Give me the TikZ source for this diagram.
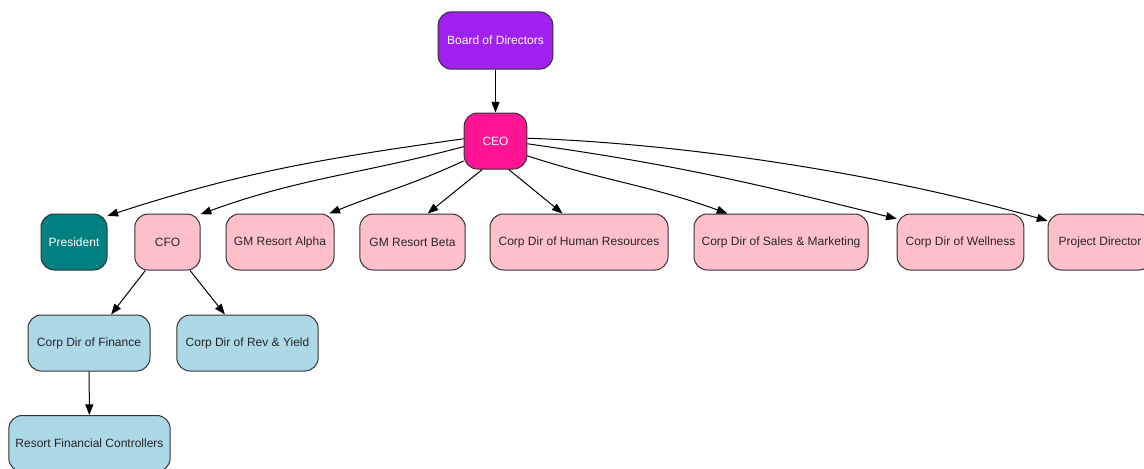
\documentclass[tikz,border=0pt]{standalone}
\usepackage{fontspec}
\setmainfont{Liberation Sans}
\usetikzlibrary{arrows.meta}
\definecolor{bpurple}{HTML}{A020F0}
\definecolor{dpink}{HTML}{FF1493}
\definecolor{tealc}{HTML}{008080}
\definecolor{pinkc}{HTML}{FFC0CB}
\definecolor{lblue}{HTML}{ADD8E6}
\definecolor{bord}{HTML}{333333}
\tikzset{
  box/.style={draw=bord, line width=0.75pt, rounded corners=10pt, minimum height=42pt,
    inner sep=2pt, font=\fontsize{9}{10}\selectfont, text=black!85},
  pinkbox/.style={box, fill=pinkc},
  bluebox/.style={box, fill=lblue},
  edge/.style={draw=black, line width=0.75pt, -{Triangle[length=8pt,width=6pt]}},
}
\begin{document}
\begin{tikzpicture}[x=0.75pt,y=-0.75pt]
\useasboundingbox (0,0) rectangle (1144,468);
\node[box, fill=bpurple, text=white, minimum width=86pt, minimum height=43pt] (bod) at (495.5,40.5) {Board of Directors};
\node[box, fill=dpink, text=white, minimum width=47pt] (ceo) at (495.5,141) {CEO};
\node[box, fill=tealc, text=white, minimum width=49.5pt] (pres) at (74,242) {President};
\node[pinkbox, minimum width=49pt] (cfo) at (167.5,242) {CFO};
\node[pinkbox, minimum width=81pt] (gma) at (280,242) {GM Resort Alpha};
\node[pinkbox, minimum width=79pt] (gmb) at (412.5,242) {GM Resort Beta};
\node[pinkbox, minimum width=133.5pt] (hr) at (579,242) {Corp Dir of Human Resources};
\node[pinkbox, minimum width=130.5pt] (sales) at (781,242) {Corp Dir of Sales \& Marketing};
\node[pinkbox, minimum width=95pt] (well) at (960.5,242) {Corp Dir of Wellness};
\node[pinkbox, minimum width=78pt] (proj) at (1100,242) {Project Director};
\node[bluebox, minimum width=91.5pt] (fin) at (89,343) {Corp Dir of Finance};
\node[bluebox, minimum width=106pt] (rev) at (247.5,343) {Corp Dir of Rev \& Yield};
\node[bluebox, minimum width=121pt] (rfc) at (89.5,443.5) {Resort Financial Controllers};

\draw[edge] (bod) -- (ceo);
\draw[edge] (ceo.176) to[out=188,in=18] (pres.38);
\draw[edge] (ceo.190) to[out=195,in=20] (cfo.40);
\draw[edge] (ceo.212) to[out=205,in=22] (gma.30);
\draw[edge] (ceo.245) -- (gmb.62);
\draw[edge] (ceo.295) -- (hr.120);
\draw[edge] (ceo.335) to[out=-18,in=160] (sales.152);
\draw[edge] (ceo.355) to[out=-8,in=166] (well.160);
\draw[edge] (ceo.5) to[out=-2,in=164,looseness=0.8] (proj.158);
\draw[edge] (cfo) -- (fin);
\draw[edge] (cfo) -- (rev);
\draw[edge] (fin) -- (rfc);
\end{tikzpicture}
\end{document}
